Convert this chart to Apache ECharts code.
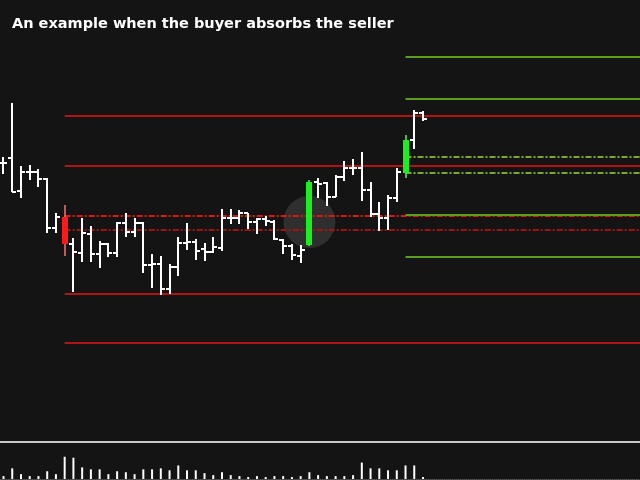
<!DOCTYPE html>
<html>
<head>
<meta charset="utf-8">
<script src="https://cdn.jsdelivr.net/npm/echarts@6/dist/echarts.min.js"></script>
<style>html,body{margin:0;padding:0;background:#141414;}#c{width:640px;height:480px;}</style>
</head>
<body>
<div id="c"></div>
<script>
// ---- data ----
var titleText = 'An example when the buyer absorbs the seller';
var opens  = [279,284,251,270,270,263,214,225,198,189,208,188,198,189,219,210,219,177,178,153,175,199,200,193,190,194,224,224,229,220,223,220,202,196,186,197,260,259,245,265,274,274,252,228,224,244,269,302,329];
var highs  = [285,339,276,277,273,264,229,237,204,224,216,201,199,220,229,224,220,188,186,178,205,219,203,199,205,233,233,232,229,224,226,222,203,198,197,262,264,260,267,281,283,290,260,240,247,274,307,332,331];
var lows   = [268,250,244,262,255,209,209,186,150,180,180,174,185,185,205,205,169,154,147,148,166,192,182,181,189,191,218,218,213,208,216,202,188,182,179,196,244,236,245,261,267,241,225,211,212,240,264,293,321];
var closes = [279,250,270,270,263,214,225,198,190,209,188,198,189,219,210,219,177,178,153,175,199,200,191,190,195,224,224,229,220,223,221,203,196,187,192,260,258,245,265,274,274,252,228,224,244,270,302,329,323];
var volumes = [300,1100,500,300,300,800,500,2300,2200,1200,1000,1000,500,800,700,500,1000,1000,1100,900,1400,900,900,600,400,700,400,300,200,300,200,300,300,200,300,700,400,300,300,300,400,1700,1100,1100,900,900,1400,1400,200];
var candleBars = [7, 35, 46];           // bars drawn as candles
var highlightBar = 35, highlightPrice = 220;
var redSolidLevels = [326, 276, 148, 99];
var redDashLevels = [226, 212];
var greenSolidLevels = [385, 343, 227, 185];
var greenDashLevels = [285, 269];
var redStart = 7, greenStart = 46;
var xMin = -0.4, xMax = 72.83;
var priceMax = 442, volMax = 3000;

// ---- build ----
var ohlc = opens.map(function(o, i){ return [i, o, highs[i], lows[i], closes[i]]; });
var vol = volumes.map(function(v, i){ return [i, v]; });

function renderBar(params, api){
  var i = api.value(0);
  var o = api.coord([i, api.value(1)]);
  var h = api.coord([i, api.value(2)]);
  var l = api.coord([i, api.value(3)]);
  var c = api.coord([i, api.value(4)]);
  var x = Math.round(o[0]);
  if (candleBars.indexOf(i) >= 0) {
    var up = api.value(4) > api.value(1);
    var body = up ? '#1cf01c' : '#ff1a1a';
    var wick = up ? '#60f060' : '#ff7070';
    var top = Math.min(o[1], c[1]), bot = Math.max(o[1], c[1]);
    return {type:'group', children:[
      {type:'line', shape:{x1:x, y1:h[1], x2:x, y2:l[1]}, style:{stroke:wick, lineWidth:1.5}},
      {type:'rect', shape:{x:x-3, y:top, width:6, height:bot-top}, style:{fill:body}}
    ]};
  }
  return {type:'group', children:[
    {type:'line', shape:{x1:x, y1:h[1], x2:x, y2:l[1]}, style:{stroke:'#ffffff', lineWidth:2}},
    {type:'line', shape:{x1:x-4, y1:Math.round(o[1]), x2:x, y2:Math.round(o[1])}, style:{stroke:'#ffffff', lineWidth:2}},
    {type:'line', shape:{x1:x, y1:Math.round(c[1]), x2:x+4, y2:Math.round(c[1])}, style:{stroke:'#ffffff', lineWidth:2}}
  ]};
}

function levelSeries(levels, start, color, width, dashed){
  return levels.map(function(v){
    return {
      type:'line', xAxisIndex:0, yAxisIndex:0, symbol:'none', silent:true, z:2,
      data:[[start, v], [xMax, v]],
      lineStyle:{color:color, width:width, type: dashed ? [6,2,2,2] : 'solid'}
    };
  });
}

var series = [];
series.push({type:'scatter', xAxisIndex:0, yAxisIndex:0, z:1, silent:true,
  data:[[highlightBar, highlightPrice]], symbolSize:52,
  itemStyle:{color:'rgba(255,255,255,0.15)'}});
series = series.concat(levelSeries(redSolidLevels, redStart, '#b01414', 2, false));
series = series.concat(levelSeries(redDashLevels.slice(0,1), redStart, '#d81818', 2, true));
series = series.concat(levelSeries(redDashLevels.slice(1), redStart, '#9c1414', 2, true));
series = series.concat(levelSeries(greenSolidLevels, greenStart, '#5a9e1c', 2, false));
series = series.concat(levelSeries(greenDashLevels, greenStart, '#7aa826', 2, true));
series.push({type:'custom', xAxisIndex:0, yAxisIndex:0, z:5, renderItem:renderBar, data:ohlc,
  encode:{x:0, y:[1,2,3,4]}});
series.push({type:'bar', xAxisIndex:1, yAxisIndex:1, data:vol, barWidth:2, itemStyle:{color:'#ffffff'}});

var chart = echarts.init(document.getElementById('c'), null, {renderer:'canvas'});
chart.setOption({
  backgroundColor:'#141414',
  animation:false,
  title:{text:titleText, left:12, top:17, padding:0, textStyle:{color:'#ffffff', fontSize:14.5, fontWeight:'bold', fontFamily:'DejaVu Sans'}},
  grid:[
    {left:0, right:0, top:0, height:442},
    {left:0, right:0, top:450, height:29}
  ],
  xAxis:[
    {type:'value', gridIndex:0, min:xMin, max:xMax, axisLine:{show:true, lineStyle:{color:'#c8c8c8', width:2}}, axisTick:{show:false}, axisLabel:{show:false}, splitLine:{show:false}},
    {type:'value', gridIndex:1, min:xMin, max:xMax, axisLine:{show:true, lineStyle:{color:'#555555', width:1, type:'dotted'}}, axisTick:{show:false}, axisLabel:{show:false}, splitLine:{show:false}}
  ],
  yAxis:[
    {type:'value', gridIndex:0, min:0, max:priceMax, show:false},
    {type:'value', gridIndex:1, min:0, max:volMax, show:false}
  ],
  series:series
});
</script>
</body>
</html>
